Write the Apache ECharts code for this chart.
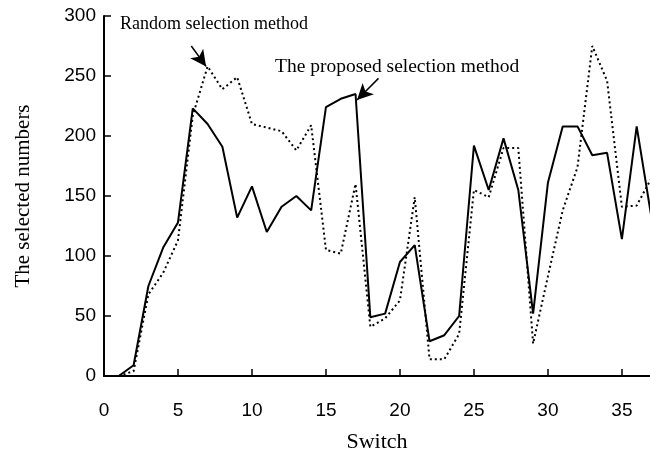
<!DOCTYPE html>
<html>
<head>
<meta charset="utf-8">
<script src="https://cdn.jsdelivr.net/npm/echarts@6/dist/echarts.min.js"></script>
<style>
  html, body { margin: 0; padding: 0; background: #fff; }
  #chart { width: 650px; height: 454px; }
</style>
</head>
<body>
<div id="chart"></div>
<script>
// switch index 1..37
const switches = [1, 2, 3, 4, 5, 6, 7, 8, 9, 10, 11, 12, 13, 14, 15, 16, 17, 18, 19,
  20, 21, 22, 23, 24, 25, 26, 27, 28, 29, 30, 31, 32, 33, 34, 35, 36, 37];
const proposed = [0, 9, 75, 107, 128, 223, 210, 191, 132, 158, 120, 141, 150, 138, 224,
  231, 235, 49, 52, 95, 109, 29, 34, 50, 192, 155, 198, 155, 52, 161, 208, 208, 184,
  186, 114, 208, 132];
const random = [0, 4, 68, 86, 113, 217, 258, 239, 249, 210, 207, 204, 188, 209, 105,
  102, 160, 41, 48, 63, 149, 14, 14, 35, 155, 149, 190, 190, 27, 83, 138, 174, 275,
  246, 141, 142, 165];
const xTicks = [0, 5, 10, 15, 20, 25, 30, 35];

const chart = echarts.init(document.getElementById("chart"));

const serif = "Liberation Serif";
const sans = "Liberation Sans";

const option = {
  animation: false,
  grid: { left: 104, right: 0, top: 16, bottom: 78, outerBoundsMode: "none" },
  xAxis: {
    type: "value",
    min: 0,
    max: 36.9,
    name: "Switch",
    nameLocation: "middle",
    nameGap: 55,
    nameTextStyle: { fontFamily: serif, fontSize: 22, color: "#000" },
    axisLine: { show: true, lineStyle: { color: "#000", width: 2 } },
    axisTick: { show: true, inside: true, length: 7, customValues: xTicks,
      lineStyle: { color: "#000", width: 1.5 } },
    axisLabel: { customValues: xTicks, margin: 25, fontFamily: sans, fontSize: 19, color: "#000" },
    splitLine: { show: false }
  },
  yAxis: {
    type: "value",
    min: 0,
    max: 300,
    interval: 50,
    name: "The selected numbers",
    nameLocation: "middle",
    nameGap: 70,
    nameTextStyle: { fontFamily: serif, fontSize: 21, color: "#000" },
    axisLine: { show: true, lineStyle: { color: "#000", width: 2 } },
    axisTick: { show: true, inside: true, length: 7, lineStyle: { color: "#000", width: 1.5 } },
    axisLabel: { margin: 8, fontFamily: sans, fontSize: 19, color: "#000" },
    splitLine: { show: false }
  },
  series: [
    {
      name: "Random selection method",
      type: "line",
      data: switches.map((s, i) => [s, random[i]]),
      symbol: "none",
      lineStyle: { color: "#000", width: 2, type: [2, 3] },
      markLine: {
        silent: true,
        symbol: ["none", "arrow"],
        symbolSize: [12, 16],
        label: { show: false },
        lineStyle: { color: "#000", width: 1.5, type: "solid" },
        data: [[{ coord: [5.9, 275] }, { coord: [6.9, 258] }]]
      }
    },
    {
      name: "The proposed selection method",
      type: "line",
      data: switches.map((s, i) => [s, proposed[i]]),
      symbol: "none",
      lineStyle: { color: "#000", width: 2 },
      markLine: {
        silent: true,
        symbol: ["none", "arrow"],
        symbolSize: [12, 16],
        label: { show: false },
        lineStyle: { color: "#000", width: 1.5, type: "solid" },
        data: [[{ coord: [18.55, 248] }, { coord: [17.1, 230] }]]
      }
    }
  ],
  graphic: [
    {
      type: "text",
      left: 120,
      top: 15,
      style: { text: "Random selection method", font: "18px " + serif, fill: "#000" }
    },
    {
      type: "text",
      left: 275,
      top: 57,
      style: { text: "The proposed selection method", font: "19.5px " + serif, fill: "#000" }
    }
  ]
};

chart.setOption(option);
</script>
</body>
</html>
